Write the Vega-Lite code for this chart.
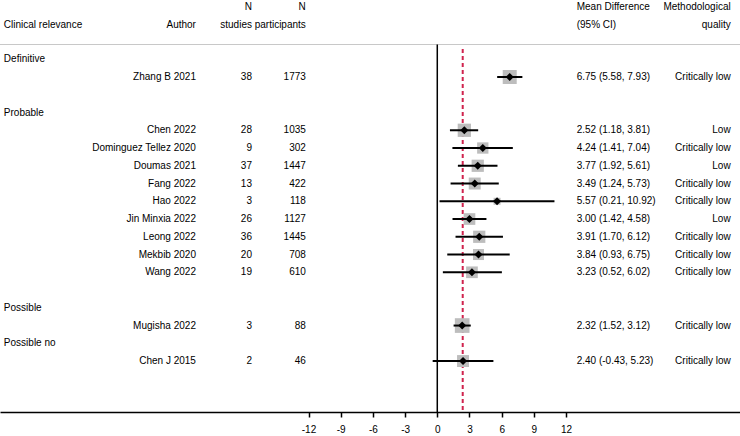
{
  "$schema": "https://vega.github.io/schema/vega-lite/v6.json",
  "width": 740,
  "height": 412,
  "autosize": {"type": "none"},
  "padding": {"left": 0, "top": 0, "right": 0, "bottom": 24},
  "background": "white",
  "config": {
    "view": {"stroke": null},
    "font": "Liberation Sans",
    "text": {"font": "Liberation Sans", "fontSize": 10, "color": "black", "baseline": "middle"}
  },
  "datasets": {
    "studies": [
      {"group": "Definitive", "author": "Zhang B 2021", "n_studies": "38", "n_part": "1773", "md": 6.75, "lo": 5.58, "hi": 7.93, "ci": "6.75 (5.58, 7.93)", "quality": "Critically low", "weight": 89, "order": 2},
      {"group": "Probable", "author": "Chen 2022", "n_studies": "28", "n_part": "1035", "md": 2.52, "lo": 1.18, "hi": 3.81, "ci": "2.52 (1.18, 3.81)", "quality": "Low", "weight": 80, "order": 5},
      {"group": "Probable", "author": "Dominguez Tellez 2020", "n_studies": "9", "n_part": "302", "md": 4.24, "lo": 1.41, "hi": 7.04, "ci": "4.24 (1.41, 7.04)", "quality": "Critically low", "weight": 58, "order": 6},
      {"group": "Probable", "author": "Doumas 2021", "n_studies": "37", "n_part": "1447", "md": 3.77, "lo": 1.92, "hi": 5.61, "ci": "3.77 (1.92, 5.61)", "quality": "Low", "weight": 68, "order": 7},
      {"group": "Probable", "author": "Fang 2022", "n_studies": "13", "n_part": "422", "md": 3.49, "lo": 1.24, "hi": 5.73, "ci": "3.49 (1.24, 5.73)", "quality": "Critically low", "weight": 65, "order": 8},
      {"group": "Probable", "author": "Hao 2022", "n_studies": "3", "n_part": "118", "md": 5.57, "lo": 0.21, "hi": 10.92, "ci": "5.57 (0.21, 10.92)", "quality": "Critically low", "weight": 22, "order": 9},
      {"group": "Probable", "author": "Jin Minxia 2022", "n_studies": "26", "n_part": "1127", "md": 3.00, "lo": 1.42, "hi": 4.58, "ci": "3.00 (1.42, 4.58)", "quality": "Low", "weight": 62, "order": 10},
      {"group": "Probable", "author": "Leong 2022", "n_studies": "36", "n_part": "1445", "md": 3.91, "lo": 1.70, "hi": 6.12, "ci": "3.91 (1.70, 6.12)", "quality": "Critically low", "weight": 68, "order": 11},
      {"group": "Probable", "author": "Mekbib 2020", "n_studies": "20", "n_part": "708", "md": 3.84, "lo": 0.93, "hi": 6.75, "ci": "3.84 (0.93, 6.75)", "quality": "Critically low", "weight": 55, "order": 12},
      {"group": "Probable", "author": "Wang 2022", "n_studies": "19", "n_part": "610", "md": 3.23, "lo": 0.52, "hi": 6.02, "ci": "3.23 (0.52, 6.02)", "quality": "Critically low", "weight": 62, "order": 13},
      {"group": "Possible", "author": "Mugisha 2022", "n_studies": "3", "n_part": "88", "md": 2.32, "lo": 1.52, "hi": 3.12, "ci": "2.32 (1.52, 3.12)", "quality": "Critically low", "weight": 98, "order": 16},
      {"group": "Possible no", "author": "Chen J 2015", "n_studies": "2", "n_part": "46", "md": 2.40, "lo": -0.43, "hi": 5.23, "ci": "2.40 (-0.43, 5.23)", "quality": "Critically low", "weight": 65, "order": 18}
    ],
    "groups": [
      {"group": "Definitive", "order": 1},
      {"group": "Probable", "order": 4},
      {"group": "Possible", "order": 15},
      {"group": "Possible no", "order": 17}
    ]
  },
  "layer": [
    {
      "data": {"values": [{}]},
      "mark": {"type": "rule", "color": "#c8c8c8", "strokeWidth": 1},
      "encoding": {
        "y": {"datum": 0.169, "type": "quantitative", "scale": {"domain": [-2.338, 20.87], "reverse": true, "nice": false, "zero": false}, "axis": null}
      }
    },
    {
      "data": {"values": [{}]},
      "mark": {"type": "rule", "color": "black", "strokeWidth": 1.5},
      "encoding": {
        "x": {"datum": 0, "type": "quantitative", "scale": {"domain": [-40.75, 28.21], "nice": false, "zero": false}, "axis": {"values": [-12, -9, -6, -3, 0, 3, 6, 9, 12], "labelExpr": "toString(datum.value)", "grid": false, "title": null, "domainColor": "black", "domainWidth": 1.5, "tickColor": "black", "tickWidth": 1.5, "tickSize": 5, "labelFontSize": 10, "labelColor": "black", "labelFont": "Liberation Sans", "labelPadding": 7, "labelFlush": false, "labelOverlap": false}},
        "y": {"datum": 0.169, "type": "quantitative", "axis": null},
        "y2": {"datum": 20.87}
      }
    },
    {
      "data": {"values": [{}]},
      "mark": {"type": "rule", "color": "#d0234e", "strokeWidth": 2, "strokeDash": [4, 3]},
      "encoding": {
        "x": {"datum": 2.37, "type": "quantitative"},
        "y": {"datum": 0.42, "type": "quantitative", "axis": null},
        "y2": {"datum": 20.87}
      }
    },
    {
      "data": {"name": "studies"},
      "mark": {"type": "point", "shape": "square", "filled": true, "color": "#bdbdbd", "opacity": 1},
      "encoding": {
        "x": {"field": "md", "type": "quantitative"},
        "y": {"field": "order", "type": "quantitative", "axis": null},
        "size": {"field": "weight", "type": "quantitative", "scale": {"domain": [0, 100], "range": [0, 220]}, "legend": null}
      }
    },
    {
      "data": {"name": "studies"},
      "mark": {"type": "rule", "color": "black", "strokeWidth": 2},
      "encoding": {
        "x": {"field": "lo", "type": "quantitative"},
        "x2": {"field": "hi"},
        "y": {"field": "order", "type": "quantitative", "axis": null}
      }
    },
    {
      "data": {"name": "studies"},
      "mark": {"type": "point", "shape": "diamond", "filled": true, "color": "black", "opacity": 1, "size": 65},
      "encoding": {
        "x": {"field": "md", "type": "quantitative"},
        "y": {"field": "order", "type": "quantitative", "axis": null}
      }
    },
    {
      "data": {"name": "studies"},
      "mark": {"type": "text", "align": "right"},
      "encoding": {
        "x": {"datum": -22.49, "type": "quantitative"},
        "y": {"field": "order", "type": "quantitative", "axis": null},
        "text": {"field": "author", "type": "nominal"}
      }
    },
    {
      "data": {"name": "studies"},
      "mark": {"type": "text", "align": "right"},
      "encoding": {
        "x": {"datum": -17.27, "type": "quantitative"},
        "y": {"field": "order", "type": "quantitative", "axis": null},
        "text": {"field": "n_studies", "type": "nominal"}
      }
    },
    {
      "data": {"name": "studies"},
      "mark": {"type": "text", "align": "right"},
      "encoding": {
        "x": {"datum": -12.25, "type": "quantitative"},
        "y": {"field": "order", "type": "quantitative", "axis": null},
        "text": {"field": "n_part", "type": "nominal"}
      }
    },
    {
      "data": {"name": "studies"},
      "mark": {"type": "text", "align": "left"},
      "encoding": {
        "x": {"datum": 12.99, "type": "quantitative"},
        "y": {"field": "order", "type": "quantitative", "axis": null},
        "text": {"field": "ci", "type": "nominal"}
      }
    },
    {
      "data": {"name": "studies"},
      "mark": {"type": "text", "align": "right"},
      "encoding": {
        "x": {"datum": 27.34, "type": "quantitative"},
        "y": {"field": "order", "type": "quantitative", "axis": null},
        "text": {"field": "quality", "type": "nominal"}
      }
    },
    {
      "data": {"name": "groups"},
      "mark": {"type": "text", "align": "left"},
      "encoding": {
        "x": {"datum": -40.39, "type": "quantitative"},
        "y": {"field": "order", "type": "quantitative", "axis": null},
        "text": {"field": "group", "type": "nominal"}
      }
    },
    {
      "data": {"values": [{}]},
      "mark": {"type": "text", "align": "left", "text": "Clinical relevance"},
      "encoding": {"x": {"datum": -40.39, "type": "quantitative"}, "y": {"datum": -0.93, "type": "quantitative", "axis": null}}
    },
    {
      "data": {"values": [{}]},
      "mark": {"type": "text", "align": "right", "text": "Author"},
      "encoding": {"x": {"datum": -22.49, "type": "quantitative"}, "y": {"datum": -0.93, "type": "quantitative", "axis": null}}
    },
    {
      "data": {"values": [{}]},
      "mark": {"type": "text", "align": "right", "text": "N"},
      "encoding": {"x": {"datum": -17.27, "type": "quantitative"}, "y": {"datum": -1.96, "type": "quantitative", "axis": null}}
    },
    {
      "data": {"values": [{}]},
      "mark": {"type": "text", "align": "right", "text": "studies"},
      "encoding": {"x": {"datum": -17.27, "type": "quantitative"}, "y": {"datum": -0.93, "type": "quantitative", "axis": null}}
    },
    {
      "data": {"values": [{}]},
      "mark": {"type": "text", "align": "right", "text": "N"},
      "encoding": {"x": {"datum": -12.25, "type": "quantitative"}, "y": {"datum": -1.96, "type": "quantitative", "axis": null}}
    },
    {
      "data": {"values": [{}]},
      "mark": {"type": "text", "align": "right", "text": "participants"},
      "encoding": {"x": {"datum": -12.25, "type": "quantitative"}, "y": {"datum": -0.93, "type": "quantitative", "axis": null}}
    },
    {
      "data": {"values": [{}]},
      "mark": {"type": "text", "align": "left", "text": "Mean Difference"},
      "encoding": {"x": {"datum": 12.99, "type": "quantitative"}, "y": {"datum": -1.96, "type": "quantitative", "axis": null}}
    },
    {
      "data": {"values": [{}]},
      "mark": {"type": "text", "align": "left", "text": "(95% CI)"},
      "encoding": {"x": {"datum": 12.99, "type": "quantitative"}, "y": {"datum": -0.93, "type": "quantitative", "axis": null}}
    },
    {
      "data": {"values": [{}]},
      "mark": {"type": "text", "align": "right", "text": "Methodological"},
      "encoding": {"x": {"datum": 27.34, "type": "quantitative"}, "y": {"datum": -1.96, "type": "quantitative", "axis": null}}
    },
    {
      "data": {"values": [{}]},
      "mark": {"type": "text", "align": "right", "text": "quality"},
      "encoding": {"x": {"datum": 27.34, "type": "quantitative"}, "y": {"datum": -0.93, "type": "quantitative", "axis": null}}
    }
  ]
}
